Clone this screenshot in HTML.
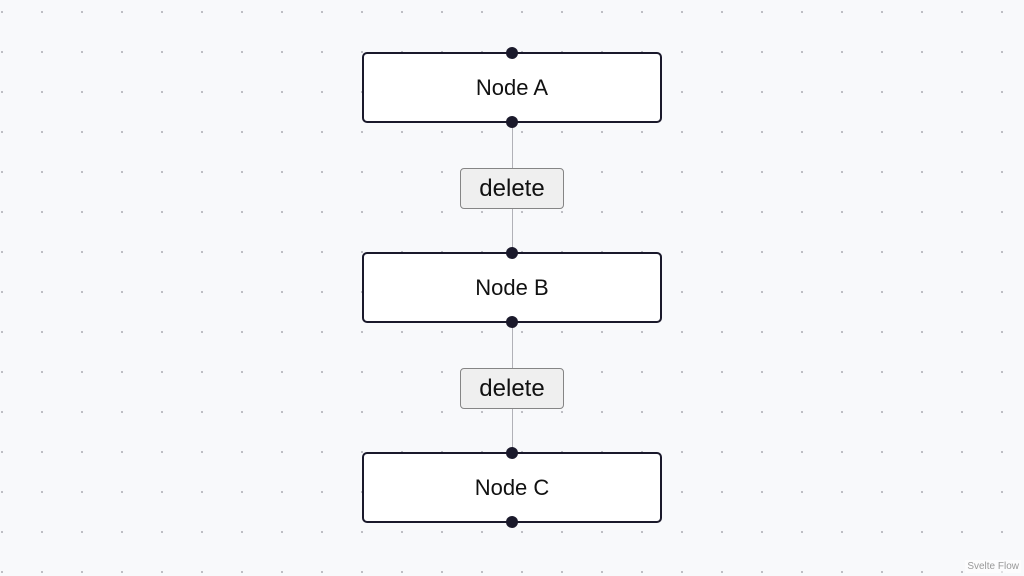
<!DOCTYPE html>
<html><head><style>
body{margin:0;width:1024px;height:576px;overflow:hidden;background:#f8f9fb;font-family:"Liberation Sans",Arial,sans-serif;position:relative;
background-image:radial-gradient(circle,#a0a0a8 0.7px,transparent 1.1px);background-size:40px 40px;background-position:-18px -8px;}
.node{position:absolute;left:362px;width:296px;height:67px;border:2px solid #1a192b;border-radius:5px;background:#fff;display:flex;align-items:center;justify-content:center;font-size:22px;color:#111}
.h{position:absolute;left:506px;width:12px;height:12px;border-radius:50%;background:#1a192b;z-index:3}
.line{position:absolute;left:511.5px;width:1px;background:#b1b1b7}
.btn{position:absolute;left:460px;width:102px;height:39px;border:1px solid #858585;border-radius:4px;background:#efefef;font-size:24px;display:flex;align-items:center;justify-content:center;color:#111;box-sizing:content-box}
.wm{position:absolute;right:3px;bottom:3px;font-size:10px;color:#999;background:rgba(255,255,255,.5);padding:1px 2px}
</style></head><body>
<div class="line" style="top:122px;height:132px"></div>
<div class="line" style="top:322px;height:132px"></div>
<div class="node" style="top:52px">Node A</div>
<div class="node" style="top:252px">Node B</div>
<div class="node" style="top:452px">Node C</div>
<div class="h" style="top:47px"></div><div class="h" style="top:116px"></div>
<div class="h" style="top:247px"></div><div class="h" style="top:316px"></div>
<div class="h" style="top:447px"></div><div class="h" style="top:516px"></div>
<div class="btn" style="top:168px">delete</div>
<div class="btn" style="top:368px">delete</div>
<div class="wm">Svelte Flow</div>
</body></html>
